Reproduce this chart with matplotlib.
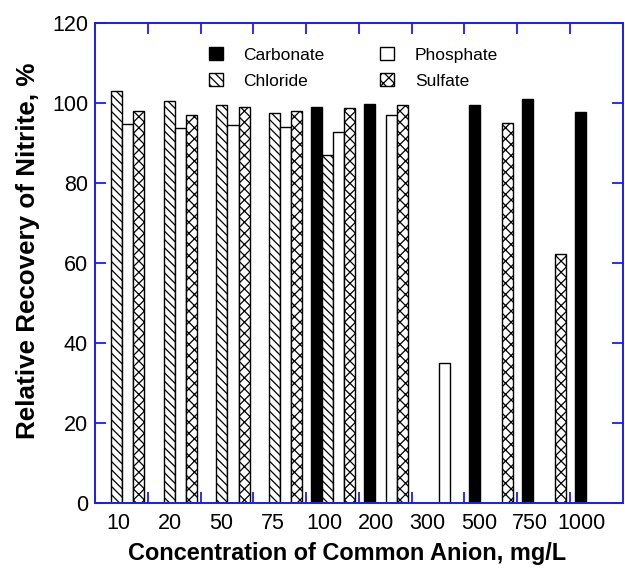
import matplotlib.pyplot as plt
import numpy as np

plt.rcParams['font.family'] = ['Liberation Sans', 'DejaVu Sans']
plt.rcParams['hatch.linewidth'] = 0.9

# concentrations of the interfering anion (mg/L)
concentrations = ['10', '20', '50', '75', '100', '200', '300', '500', '750', '1000']

# relative recovery of nitrite (%), nan = not measured
carbonate = [np.nan, np.nan, np.nan, np.nan, 99.0, 99.6, np.nan, 99.4, 100.9, 97.6]
chloride = [102.9, 100.4, 99.5, 97.4, 87.0, np.nan, np.nan, np.nan, np.nan, np.nan]
phosphate = [94.7, 93.6, 94.5, 93.9, 92.6, 96.9, 35.0, np.nan, np.nan, np.nan]
sulfate = [98.0, 97.0, 99.0, 98.0, 98.6, 99.4, np.nan, 94.9, 62.2, np.nan]

series = [
    ('Carbonate', carbonate, 'black', None),
    ('Chloride', chloride, 'white', '\\\\\\\\'),
    ('Phosphate', phosphate, 'white', None),
    ('Sulfate', sulfate, 'white', 'xxx'),
]

blue = '#1a1aff'
fig = plt.figure(figsize=(6.25, 5.72), dpi=100)
ax = fig.add_axes([0.152, 0.120, 0.8443, 0.8403])

x = np.arange(len(concentrations)) + 0.5
width = 0.21
for k, (name, vals, fc, hatch) in enumerate(series):
    ax.bar(x + (k - 1.5) * width + 0.01, vals, width, color=fc, edgecolor='black',
           linewidth=1.0, hatch=hatch, label=name)

ax.set_xlim(0, len(concentrations))
ax.set_ylim(0, 120)

# group labels sit slightly left of the group centres in the original
ax.set_xticks(0.45 + np.arange(len(concentrations)) * 0.975)
ax.set_xticklabels(concentrations)
ax.set_xticks(np.arange(1, len(concentrations)), minor=True)
ax.tick_params(axis='x', which='major', length=0, pad=7, labelsize=15.5)
ax.tick_params(axis='x', which='minor', direction='in', length=8, width=1.3,
               color=blue, top=True, bottom=True)
ax.set_yticks(np.arange(0, 121, 20))
ax.tick_params(axis='y', which='major', direction='in', length=8, width=1.3,
               color=blue, left=True, right=True, labelsize=15.5, pad=5)

for sp in ax.spines.values():
    sp.set_color(blue)
    sp.set_linewidth(1.4)

ax.set_xlabel('Concentration of Common Anion, mg/L', fontsize=16.9, fontweight='bold',
              labelpad=7)
ax.xaxis.set_label_coords(0.478, -0.081)
ax.set_ylabel('Relative Recovery of Nitrite, %', fontsize=18.7, fontweight='bold',
              labelpad=6)
ax.yaxis.set_label_coords(-0.104, 0.525)

ax.legend(loc='upper center', bbox_to_anchor=(0.49, 1.0), ncol=2, frameon=False,
          fontsize=12.5, handlelength=0.8, handleheight=0.8, handletextpad=1.2,
          columnspacing=3.2, labelspacing=0.6, borderaxespad=1.0)

fig.savefig('out.png', dpi=100)
